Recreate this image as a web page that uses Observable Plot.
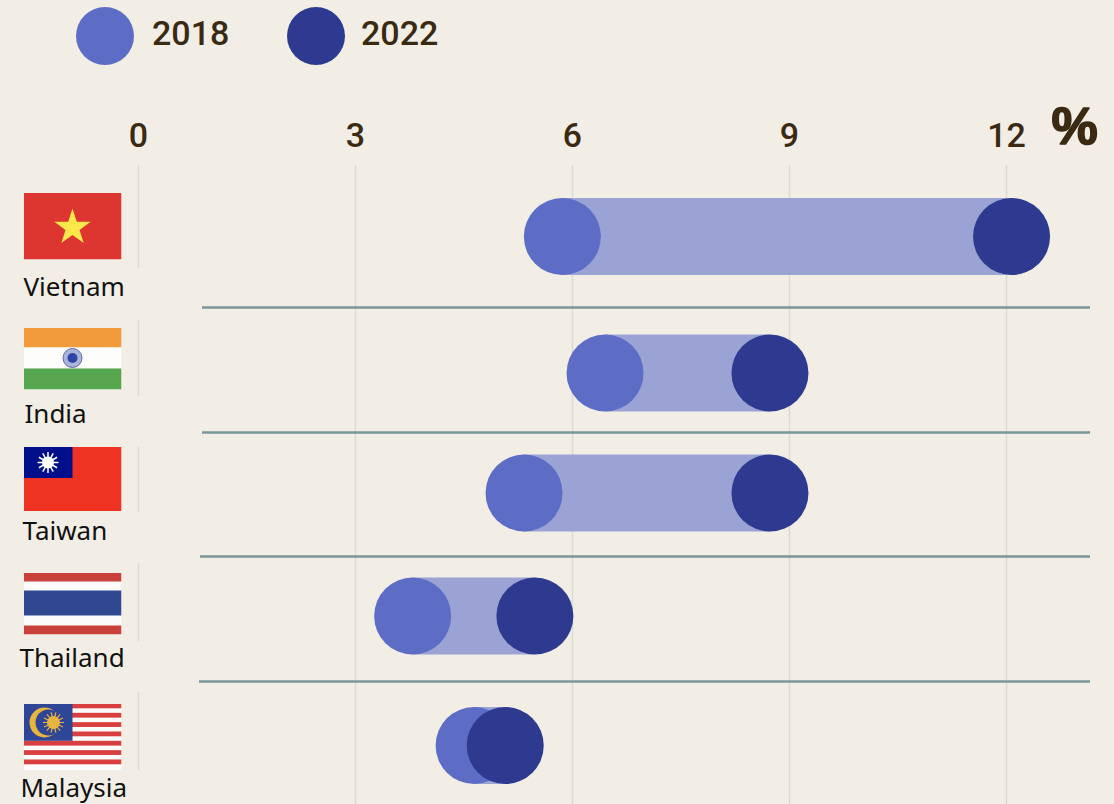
<!DOCTYPE html>
<html>
<head>
<meta charset="utf-8">
<style>
  html, body { margin: 0; padding: 0; background: #f2eee6; overflow: hidden; }
  #legend { position: relative; width: 1114px; height: 96px; font: 500 34px Roboto, sans-serif; color: #3a2a12; }
  #legend i { position: absolute; top: 7px; width: 58px; height: 58px; border-radius: 50%; }
  #legend span { position: absolute; top: 13px; line-height: 41px; }
  #chart svg { display: block; }
</style>
<script src="https://cdn.jsdelivr.net/npm/d3@7"></script>
<script src="https://cdn.jsdelivr.net/npm/@observablehq/plot@0.6"></script>
</head>
<body>
<div id="legend">
  <i style="left:76px;background:#5d6dc6"></i><span style="left:152px">2018</span>
  <i style="left:287px;background:#2d3a8f"></i><span style="left:361px">2022</span>
</div>
<div id="chart"></div>
<script>
// Data
const countries = ["Vietnam", "India", "Taiwan", "Thailand", "Malaysia"];
const values2018 = [5.86, 6.45, 5.33, 3.79, 4.64];
const values2022 = [12.07, 8.73, 8.73, 5.48, 5.07];
const xTicks = [0, 3, 6, 9, 12];

// Layout (page pixels, converted through inverse scales below)
const svgTop = 96;
const rowCenters = [236, 372.5, 492.5, 615.5, 745];
const xDomain = [0, 12], xRange = [138, 1006];
const toX = d3.scaleLinear(xRange, xDomain);
const toRow = d3.scaleLinear(rowCenters, d3.range(countries.length));

const flagSvg = {
  Vietnam: `<rect width="98" height="67" fill="#dd3630"/><polygon fill="#fde84b" points="49,16 53.3,29.2 67.2,29.2 56,37.4 60.2,50.6 49,42.4 37.8,50.6 42,37.4 30.8,29.2 44.7,29.2"/>`,
  India: `<rect width="98" height="20" fill="#f29b3b"/><rect y="20" width="98" height="21" fill="#fdfdfb"/><rect y="41" width="98" height="21" fill="#55a64f"/><circle cx="49" cy="30.5" r="9.5" fill="#aab3d8" stroke="#5f6db0"/><circle cx="49" cy="30.5" r="5" fill="#2e45a8"/>`,
  Taiwan: `<rect width="98" height="64" fill="#ee3322"/><rect width="49" height="31" fill="#000e8c"/><g stroke="#fff" stroke-width="1.5">${d3.range(12).map(i => `<line x1="24.5" y1="15.5" x2="${24.5 + 10.5 * Math.cos(i * Math.PI / 6)}" y2="${15.5 + 10.5 * Math.sin(i * Math.PI / 6)}"/>`).join("")}</g><circle cx="24.5" cy="15.5" r="6" fill="#fff"/>`,
  Thailand: `<rect width="98" height="62" fill="#fbfbfb"/><rect width="98" height="9" fill="#c8423b"/><rect y="53" width="98" height="9" fill="#c8423b"/><rect y="18" width="98" height="25" fill="#30488f"/>`,
  Malaysia: `<rect width="98" height="67" fill="#fbfbfb"/>${d3.range(7).map(i => `<rect y="${i * 9.33}" width="98" height="4.8" fill="#d8403f"/>`).join("")}<rect width="49" height="37.3" fill="#2f4595"/><circle cx="21" cy="19" r="15" fill="#e8b53f"/><circle cx="25" cy="19" r="13" fill="#2f4595"/><g stroke="#e8b53f" stroke-width="1.2">${d3.range(14).map(i => `<line x1="30" y1="19" x2="${30 + 10.5 * Math.cos(i * Math.PI / 7)}" y2="${19 + 10.5 * Math.sin(i * Math.PI / 7)}"/>`).join("")}</g><circle cx="30" cy="19" r="6.5" fill="#e8b53f"/>`
};
const flagBoxes = [[192, 67], [327, 62], [446.5, 64], [572, 62], [703, 67]];
const flags = countries.map((c, i) => {
  const [t, h] = flagBoxes[i];
  const svg = `<svg xmlns="http://www.w3.org/2000/svg" width="98" height="${h}" viewBox="0 0 98 ${h}">${flagSvg[c]}</svg>`;
  return {x: toX(72), y: toRow(t + h / 2), h, src: "data:image/svg+xml," + encodeURIComponent(svg)};
});

const labelLayout = [[23, 287], [24, 414], [22, 531], [19, 658], [20, 788]];
const labels = countries.map((c, i) => ({name: c, x: toX(labelLayout[i][0]), y: toRow(labelLayout[i][1])}));

const separators = [[202, 307], [202, 432], [200, 556], [199, 681]]
  .map(([l, y]) => ({x1: toX(l), x2: toX(1090), y: toRow(y)}));

const zeroSegments = [[165, 268], [320, 396], [447, 512], [563, 641], [692, 770]]
  .map(([a, b]) => ({y1: toRow(a), y2: toRow(b)}));

const rows = countries.map((c, i) => ({country: c, row: i, a: values2018[i], b: values2022[i]}));

const bandWidth = 77, dotR = 38.5;

const chart = Plot.plot({
  width: 1114,
  height: 804 - svgTop,
  marginTop: 69, marginLeft: 0, marginRight: 0, marginBottom: 0,
  style: {background: "transparent", fontFamily: "Roboto, sans-serif", overflow: "visible"},
  x: {domain: xDomain, range: xRange},
  y: {domain: d3.range(countries.length), range: rowCenters.map(d => d - svgTop), axis: null, type: "linear"},
  marks: [
    Plot.ruleX(xTicks.slice(1), {stroke: "#dcdbd2", strokeWidth: 1.5, y1: toRow(165), y2: toRow(804)}),
    Plot.ruleX(zeroSegments, {x: 0, y1: "y1", y2: "y2", stroke: "#dcdbd2", strokeWidth: 1.5}),
    Plot.ruleY(separators, {x1: "x1", x2: "x2", y: "y", stroke: "#7b979c", strokeWidth: 2.5}),
    Plot.axisX({anchor: "top", ticks: xTicks, tickSize: 0, tickPadding: 19, fontSize: 34, fontWeight: 500, fill: "#3a2a12", label: null, tickFormat: d => String(d)}),
    Plot.text(["%"], {x: 12, frameAnchor: "top", dx: 68, dy: -58, fontSize: 52, fontWeight: 700, fill: "#3a2a12", stroke: "#3a2a12", strokeWidth: 1.6, fontFamily: "'Liberation Sans', sans-serif"}),
    Plot.image(flags, {x: "x", y: "y", width: 98, height: "h", src: "src", preserveAspectRatio: "none"}),
    Plot.text(labels, {x: "x", y: "y", text: "name", textAnchor: "start", fontSize: 26, fill: "#111", fontFamily: "'Noto Sans', sans-serif", style: "letter-spacing:0.3px"}),
    Plot.ruleY(rows, {x1: "a", x2: "b", y: "row", stroke: "#9aa3d3", strokeWidth: bandWidth}),
    Plot.dot(rows, {x: "a", y: "row", r: dotR, fill: "#5d6dc6"}),
    Plot.dot(rows, {x: "b", y: "row", r: dotR, fill: "#2d3a8f"})
  ]
});
document.getElementById("chart").appendChild(chart);
</script>
</body>
</html>
